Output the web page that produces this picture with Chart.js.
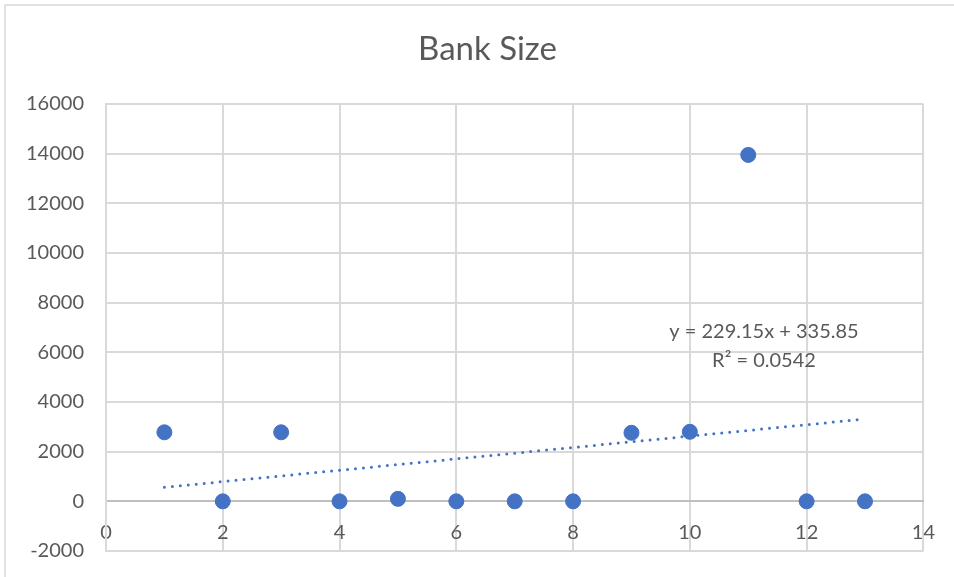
<!DOCTYPE html>
<html>
<head>
<meta charset="utf-8">
<script src="https://cdn.jsdelivr.net/npm/chart.js@4/dist/chart.umd.min.js"></script>
<style>
  html, body { margin: 0; padding: 0; background: #ffffff; }
  #wrap { position: relative; width: 954px; height: 577px; }
</style>
</head>
<body>
<div id="wrap"><canvas id="c" width="954" height="577"></canvas></div>
<script>
// Bank size by index
const bankIndex = [1, 2, 3, 4, 5, 6, 7, 8, 9, 10, 11, 12, 13];
const bankSize  = [2780, 0, 2780, 0, 100, 0, 0, 0, 2760, 2800, 13950, 0, 0];

// Linear trendline as stated in the label
const trendSlope = 229.15;
const trendIntercept = 335.85;
const trendLabel = ['y = 229.15x + 335.85', 'R\u00b2 = 0.0542'];
const trendLabelAt = { x: 11.27, y: 6820 };

const chartTitle = 'Bank Size';

// Axis ranges
const xTicks = { min: 0, max: 14, step: 2 };
const yTicks = { min: -2000, max: 16000, step: 2000 };

const FONT = 'Lato, "Open Sans", "DejaVu Sans", sans-serif';
const TEXT = '#595959';
const BLUE = '#4472C4';

const xFirst = bankIndex[0];
const xLast = bankIndex[bankIndex.length - 1];
const trendPoints = [
  { x: xFirst, y: trendSlope * xFirst + trendIntercept },
  { x: xLast, y: trendSlope * xLast + trendIntercept }
];

const plainNumber = (v) => String(v);

// White background, frame and the centred title
const framePlugin = {
  id: 'frame',
  beforeDraw(chart) {
    const ctx = chart.ctx;
    ctx.save();
    ctx.fillStyle = '#ffffff';
    ctx.fillRect(0, 0, chart.width, chart.height);
    ctx.strokeStyle = '#d9d9d9';
    ctx.lineWidth = 1.5;
    ctx.strokeRect(5, 5, chart.width + 10, chart.height + 10);
    ctx.font = '33px ' + FONT;
    ctx.fillStyle = TEXT;
    ctx.textAlign = 'center';
    ctx.textBaseline = 'middle';
    ctx.fillText(chartTitle, (5 + chart.width + 16) / 2, 49);
    ctx.restore();
  }
};

const trendTextPlugin = {
  id: 'trendText',
  afterDatasetsDraw(chart) {
    const ctx = chart.ctx;
    const xs = chart.scales.x, ys = chart.scales.y;
    const px = xs.getPixelForValue(trendLabelAt.x);
    const py = ys.getPixelForValue(trendLabelAt.y);
    ctx.save();
    ctx.font = '20px ' + FONT;
    ctx.fillStyle = TEXT;
    ctx.textAlign = 'center';
    ctx.textBaseline = 'middle';
    trendLabel.forEach((line, i) => ctx.fillText(line, px, py + i * 29));
    ctx.restore();
  }
};

new Chart(document.getElementById('c'), {
  type: 'scatter',
  data: {
    datasets: [
      {
        label: 'Bank Size',
        data: bankIndex.map((x, i) => ({ x: x, y: bankSize[i] })),
        backgroundColor: BLUE,
        borderColor: BLUE,
        pointRadius: 7.5,
        pointHoverRadius: 7.5,
        order: 1
      },
      {
        label: 'Linear (Bank Size)',
        type: 'line',
        data: trendPoints,
        borderColor: BLUE,
        borderWidth: 3,
        borderDash: [0, 8],
        borderCapStyle: 'round',
        pointRadius: 0,
        fill: false,
        order: 2
      }
    ]
  },
  options: {
    responsive: false,
    animation: false,
    events: [],
    layout: { padding: { left: 0, right: 28, top: 104, bottom: 26 } },
    plugins: {
      legend: { display: false },
      tooltip: { enabled: false },
      title: { display: false }
    },
    scales: {
      x: {
        type: 'linear',
        position: { y: 0 },
        min: xTicks.min,
        max: xTicks.max,
        ticks: {
          stepSize: xTicks.step,
          color: TEXT,
          font: { family: FONT, size: 20 },
          padding: 19,
          callback: plainNumber
        },
        grid: { color: '#d9d9d9', lineWidth: 2, drawTicks: false },
        border: { color: '#bfbfbf', width: 2 }
      },
      y: {
        min: yTicks.min,
        max: yTicks.max,
        afterFit(scale) {
          scale.width = 106;
          scale.paddingTop = 0;
          scale.paddingBottom = 0;
        },
        ticks: {
          stepSize: yTicks.step,
          color: TEXT,
          font: { family: FONT, size: 20 },
          padding: 22,
          callback: plainNumber
        },
        grid: { color: '#d9d9d9', lineWidth: 2, drawTicks: false },
        border: { color: '#d9d9d9', width: 2 }
      }
    }
  },
  plugins: [framePlugin, trendTextPlugin]
});
</script>
</body>
</html>
